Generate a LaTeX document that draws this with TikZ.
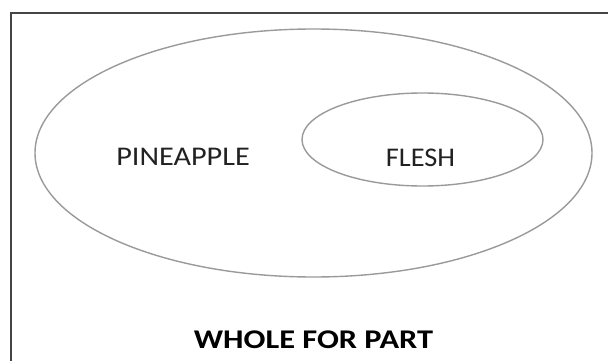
\documentclass[tikz,border=0pt]{standalone}
\usepackage{fontspec}
\usetikzlibrary{shapes.geometric}
\setmainfont{Carlito}
\definecolor{ringgray}{HTML}{9A9A9A}
\definecolor{framegray}{HTML}{454545}
\definecolor{txt}{HTML}{222222}
\begin{document}
\begin{tikzpicture}[x=1pt,y=-1pt,
  ring/.style={draw=ringgray,line width=1.4pt},
  lbl/.style={text=txt,inner sep=0pt,font=\fontsize{27}{30}\selectfont},
  ttl/.style={text=black,inner sep=0pt,font=\fontsize{27}{30}\selectfont\bfseries}]
\useasboundingbox (0,0) rectangle (608,361);
\fill[white] (0,0) rectangle (608,361);
\draw[framegray,line width=2pt] (11,370) -- (11,13) -- (620,13);
\node[ring,ellipse,minimum width=557pt,minimum height=248pt,inner sep=0pt] (whole) at (313.5,153) {};
\node[ring,ellipse,minimum width=241pt,minimum height=93pt,inner sep=0pt] (part) at (422.5,139.5) {};
\node[lbl,anchor=base] (pine) at (183,165) {\scalebox{1.12}[1]{PINEAPPLE}};
\node[lbl,anchor=base] (flesh) at (420.5,166.5) {\scalebox{1.05}[1]{FLESH}};
\node[ttl,anchor=base] (title) at (313.5,348) {\scalebox{1.2}[1]{WHOLE FOR PART}};
\end{tikzpicture}
\end{document}
